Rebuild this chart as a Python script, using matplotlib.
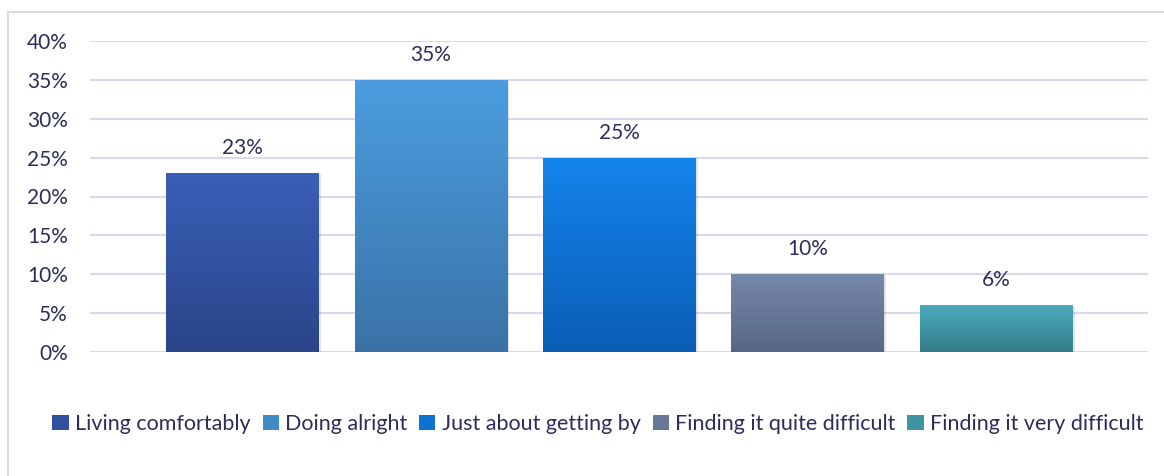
import matplotlib
matplotlib.use("Agg")
import matplotlib.pyplot as plt
import numpy as np
from matplotlib.colors import LinearSegmentedColormap
from matplotlib.patches import Rectangle, Patch

CATEGORIES = ["Living comfortably", "Doing alright", "Just about getting by",
              "Finding it quite difficult", "Finding it very difficult"]
VALUES = [23, 35, 25, 10, 6]
TOP_COLORS = ["#3a5fb8", "#4b9de0", "#1384ec", "#7689ab", "#4aaabb"]
BOTTOM_COLORS = ["#2a4589", "#3a72a6", "#0a5eb6", "#586683", "#337e8a"]
LEGEND_COLORS = ["#3150a0", "#428ac4", "#0e72d2", "#677897", "#3f94a2"]
TEXT = "#2b2d5a"
GRID = "#d9d9ee"

plt.rcParams["font.family"] = ["Lato", "DejaVu Sans"]

fig = plt.figure(figsize=(11.64, 4.76), dpi=100)
ax = fig.add_axes([90 / 1164, 1 - 352 / 476, (1148 - 90) / 1164, (352 - 41) / 476])

x = np.arange(len(CATEGORIES))
w = 0.81
bars = ax.bar(x, VALUES, w, color="none", zorder=3)
grad = np.linspace(1, 0, 256).reshape(-1, 1)
for b, top, bot in zip(bars, TOP_COLORS, BOTTOM_COLORS):
    x0, y0, bw, bh = b.get_x(), b.get_y(), b.get_width(), b.get_height()
    # soft shadow
    ax.add_patch(Rectangle((x0 + 0.012, y0 - 0.15), bw, bh, color="#000000",
                           alpha=0.10, lw=0, zorder=2.5))
    cmap = LinearSegmentedColormap.from_list("g", [bot, top])
    im = ax.imshow(grad, extent=[x0, x0 + bw, y0, y0 + bh], aspect="auto",
                   cmap=cmap, origin="upper", zorder=3)
    im.set_clip_path(b)
    ax.text(b.get_x() + bw / 2, bh + 3.2, f"{bh:.0f}%", ha="center", va="center",
            fontsize=15, color=TEXT, zorder=4)

ax.set_xlim(-0.809, 4.806)
ax.set_ylim(0, 40)
ax.set_yticks(range(0, 41, 5))
ax.set_yticklabels([f"{v}%" for v in range(0, 41, 5)])
ax.set_xticks([])
ax.tick_params(axis="y", length=0, labelsize=15, labelcolor=TEXT, pad=16)
ax.grid(axis="y", color=GRID, lw=1.5, zorder=0)
for s in ax.spines.values():
    s.set_visible(False)

handles = [Patch(facecolor=c, edgecolor="none") for c in LEGEND_COLORS]
fig.legend(handles, CATEGORIES, loc="center", bbox_to_anchor=(598 / 1164, 1 - 424 / 476),
           ncol=5, frameon=False, fontsize=15.5, labelcolor=TEXT, handlelength=0.75,
           handleheight=0.75, handletextpad=0.3, columnspacing=0.55)

# chart border
fig.patches.append(Rectangle((8 / 1164, -0.01), 1.02, 1 - 12 / 476 + 0.01, transform=fig.transFigure,
                             fill=False, edgecolor=GRID, lw=1.5))

fig.savefig("out.png", dpi=100)
